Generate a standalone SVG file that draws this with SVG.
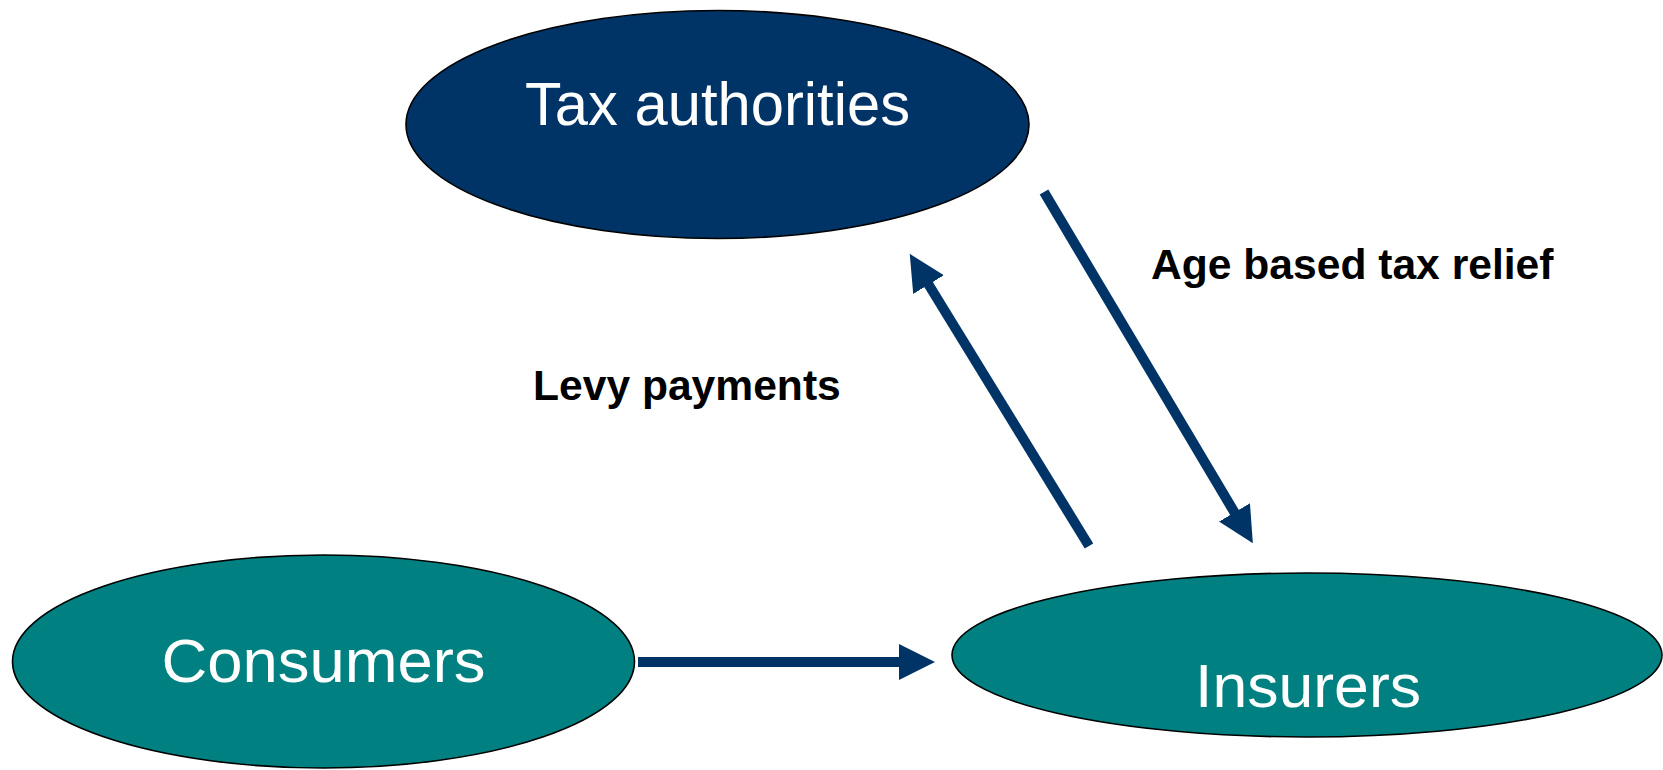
<svg xmlns="http://www.w3.org/2000/svg" width="1663" height="770" viewBox="0 0 1663 770">
<style>
.node{stroke:#000;stroke-width:1.6}
.dark{fill:#003366}
.teal{fill:#008080}
.ntext{font-family:"Liberation Sans",Arial,sans-serif;font-size:62px;fill:#fff;text-anchor:middle}
.lbl{font-family:"Liberation Sans",Arial,sans-serif;font-size:42.6px;font-weight:bold;fill:#000}
.conn{stroke:#003366;stroke-width:10;fill:none}
</style>
<defs>
<marker id="ah" markerWidth="4" markerHeight="4" refX="0.3" refY="1.8" orient="auto" markerUnits="strokeWidth">
<path d="M0,0 L3.6,1.8 L0,3.6 Z" fill="#003366"/>
</marker>
</defs>
<rect width="1663" height="770" fill="#fff"/>
<g id="tax-authorities">
<ellipse class="node dark" cx="717.5" cy="124.5" rx="311.5" ry="114"/>
<text class="ntext" x="717.5" y="125" textLength="385" lengthAdjust="spacingAndGlyphs">Tax authorities</text>
</g>
<g id="consumers">
<ellipse class="node teal" cx="323.5" cy="661.5" rx="311" ry="106.5"/>
<text class="ntext" x="323.5" y="682" textLength="324" lengthAdjust="spacingAndGlyphs">Consumers</text>
</g>
<g id="insurers">
<ellipse class="node teal" cx="1307" cy="655" rx="355" ry="82"/>
<text class="ntext" x="1308" y="707" textLength="226" lengthAdjust="spacingAndGlyphs">Insurers</text>
</g>
<g id="connectors">
<line class="conn" x1="1089" y1="546" x2="927" y2="282" marker-end="url(#ah)"/>
<line class="conn" x1="1044" y1="192" x2="1236" y2="515" marker-end="url(#ah)"/>
<line class="conn" x1="638" y1="662" x2="902" y2="662" marker-end="url(#ah)"/>
</g>
<text class="lbl" x="533" y="400">Levy payments</text>
<text class="lbl" x="1151" y="279">Age based tax relief</text>
</svg>
